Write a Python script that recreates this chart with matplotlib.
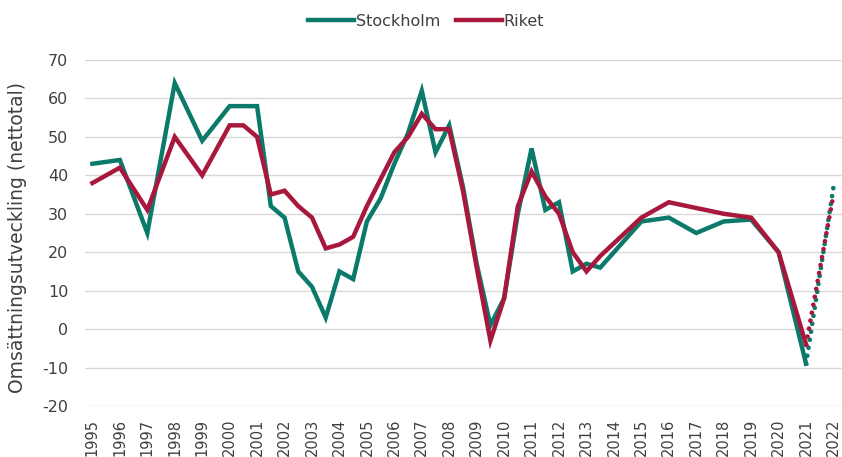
import numpy as np
import matplotlib
matplotlib.use('Agg')
import matplotlib.pyplot as plt

# values
years = [1995, 1996, 1997, 1998, 1999, 2000,
         2000.5, 2001, 2001.5, 2002, 2002.5, 2003, 2003.5, 2004, 2004.5,
         2005, 2005.5, 2006, 2006.5, 2007, 2007.5, 2008, 2008.5, 2009,
         2009.5, 2010, 2010.5, 2011, 2011.5, 2012, 2012.5, 2013, 2013.5,
         2015, 2016, 2017, 2018, 2019, 2020, 2021]
stockholm = [43, 44, 25, 64, 49, 58,
             58, 58, 32, 29, 15, 11, 3, 15, 13,
             28, 34, 43, 51, 62, 46, 53, 37, 17,
             1, 8, 30, 47, 31, 33, 15, 17, 16,
             28, 29, 25, 28, 28.5, 20, -9]
riket = [38, 42, 31, 50, 40, 53,
         53, 50, 35, 36, 32, 29, 21, 22, 24,
         32, 39, 46, 50, 56, 52, 52, 36, 16,
         -3, 8, 32, 41, 34.5, 30, 20, 15, 19,
         29, 33, 31.5, 30, 29, 20, -4]

# forecast segment (dotted)
fc_years = [2021, 2022]
fc_stockholm = [-9, 37]
fc_riket = [-4, 35]

tick_years = list(range(1995, 2023))

green = '#0B7A6A'
red = '#A8183D'
txt = '#404040'

plt.rcParams['font.family'] = ['DejaVu Sans']
plt.rcParams['axes.unicode_minus'] = False

fig = plt.figure(figsize=(8.42, 4.57), dpi=100)
ax = fig.add_axes([85 / 842, 1 - 406 / 457, (842 - 85) / 842, (406 - 60) / 457])

ax.plot(years, stockholm, color=green, lw=3.2, solid_joinstyle='miter', label='Stockholm', zorder=3)
ax.plot(years, riket, color=red, lw=3.2, solid_joinstyle='miter', label='Riket', zorder=4)
ax.plot(fc_years, fc_stockholm, color=green, lw=3.4, ls=(0, (0.01, 1.7)),
        dash_capstyle='round', zorder=3)
ax.plot(fc_years, fc_riket, color=red, lw=3.4, ls=(0, (0.01, 1.7)),
        dash_capstyle='round', zorder=4)

ax.set_ylim(-20, 70)
ax.set_yticks(np.arange(-20, 71, 10))
ax.set_xlim(1994.73, 2022.31)
ax.set_xticks(tick_years)
ax.set_xticklabels([str(y) for y in tick_years], rotation=90)

ax.grid(axis='y', color='#D9D9D9', lw=1)
ax.set_axisbelow(True)
for s in ax.spines.values():
    s.set_visible(False)
ax.tick_params(length=0, colors=txt)
ax.tick_params(axis='x', pad=9, labelsize=10.5)
ax.tick_params(axis='y', pad=12, labelsize=11.5)

ax.set_ylabel('Omsättningsutveckling (nettotal)', fontsize=13.5, color=txt, va='center')
ax.yaxis.set_label_coords(-0.0893, 0.486)

fig.legend(*ax.get_legend_handles_labels(), loc='center',
           bbox_to_anchor=(426 / 842, 1 - 21 / 457), ncol=2, frameon=False,
           fontsize=11.5, handlelength=2.9, handletextpad=0.1, columnspacing=1.0,
           labelcolor=txt)

fig.savefig('out.png', dpi=100)
